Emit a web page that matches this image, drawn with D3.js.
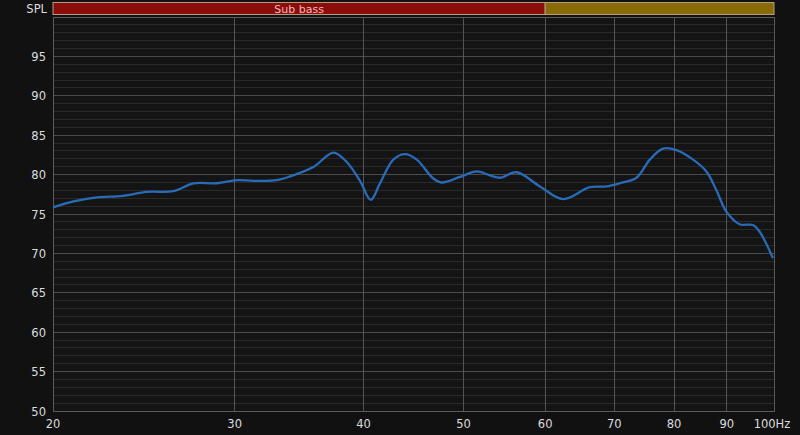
<!DOCTYPE html>
<html><head><meta charset="utf-8">
<script src="https://cdn.jsdelivr.net/npm/d3@7"></script>
<style>
html,body{margin:0;padding:0;background:#111111;}
svg{display:block;}
text{font-family:"DejaVu Sans",sans-serif;}
</style></head>
<body>
<svg id="c" width="800" height="435"></svg>
<script>
// Frequency (Hz) and SPL (dB)
const freqs = [20.0, 20.94, 22.06, 23.39, 24.66, 26.16, 27.37, 28.84, 30.15, 31.27, 32.96, 34.0, 35.8, 37.40, 38.53, 39.69, 40.65, 41.50, 42.75, 43.88, 45.05, 46.74, 47.63, 49.61, 51.49, 53.04, 54.24, 56.30, 59.30, 62.46, 66.28, 68.80, 70.87, 73.57, 75.79, 78.06, 80.43, 83.47, 86.00, 87.94, 89.91, 92.62, 95.41, 96.85, 99.76];
const spl   = [75.85, 76.6, 77.1, 77.3, 77.8, 77.9, 78.9, 78.9, 79.3, 79.2, 79.3, 79.8, 81.0, 82.8, 81.6, 79.2, 76.8, 78.9, 81.9, 82.6, 81.9, 79.5, 79.0, 79.7, 80.4, 79.9, 79.6, 80.3, 78.5, 76.9, 78.4, 78.5, 78.9, 79.6, 81.9, 83.3, 83.1, 81.9, 80.4, 78.0, 75.3, 73.7, 73.6, 72.75, 69.4];
const xTickValues = [20, 30, 40, 50, 60, 70, 80, 90, 100];
const xTickLabels = ["20", "30", "40", "50", "60", "70", "80", "90", "100Hz"];
const yTickValues = [50, 55, 60, 65, 70, 75, 80, 85, 90, 95];
const bandNames = ["Sub bass", ""];
const bandStarts = [20, 60];
const bandEnds = [60, 100];
const bandColors = ["#8c0c0c", "#8a6a06"];

const svg = d3.select("#c");
const L = 53, R = 774, T = 17, B = 411;
const x = d3.scaleLog().domain([20, 100]).range([L, R]);
const y = d3.scaleLinear().domain([50, 100]).range([B, T]);

svg.append("rect").attr("x", 0).attr("y", 0).attr("width", 800).attr("height", 435).attr("fill", "#111111");
svg.append("rect").attr("x", L).attr("y", T).attr("width", R - L).attr("height", B - T).attr("fill", "#141414");

// minor horizontal grid (1 dB)
const minor = d3.range(51, 100).filter(v => v % 5 !== 0);
svg.append("g").selectAll("line").data(minor).join("line")
  .attr("x1", L).attr("x2", R).attr("y1", d => y(d)).attr("y2", d => y(d))
  .attr("stroke", "#2a2a2a").attr("stroke-width", 1).attr("shape-rendering", "crispEdges");

// major horizontal grid
svg.append("g").selectAll("line").data(yTickValues.concat([100])).join("line")
  .attr("x1", L).attr("x2", R).attr("y1", d => y(d)).attr("y2", d => y(d))
  .attr("stroke", "#4c4c4c").attr("stroke-width", 1).attr("shape-rendering", "crispEdges");

// vertical grid
svg.append("g").selectAll("line").data(xTickValues).join("line")
  .attr("x1", d => x(d)).attr("x2", d => x(d)).attr("y1", T).attr("y2", B)
  .attr("stroke", "#555555").attr("stroke-width", 1).attr("shape-rendering", "crispEdges");

// frame
svg.append("rect").attr("x", L).attr("y", T).attr("width", R - L).attr("height", B - T)
  .attr("fill", "none").attr("stroke", "#5a5a5a").attr("stroke-width", 1).attr("shape-rendering", "crispEdges");

// band bar
const bands = svg.append("g");
bandNames.forEach((n, i) => {
  bands.append("rect").attr("x", x(bandStarts[i])).attr("y", 2.5)
    .attr("width", x(bandEnds[i]) - x(bandStarts[i])).attr("height", 12)
    .attr("fill", bandColors[i]).attr("stroke", "#b0a080").attr("stroke-width", 1);
  if (n) bands.append("text").attr("x", (x(bandStarts[i]) + x(bandEnds[i])) / 2).attr("y", 12.5)
    .attr("text-anchor", "middle").attr("fill", "#f0b8b8").attr("font-size", 11).text(n);
});

// labels
svg.append("text").attr("x", 47).attr("y", 12.5).attr("text-anchor", "end")
  .attr("fill", "#dddddd").attr("font-size", 11.5).text("SPL");
svg.append("g").selectAll("text").data(yTickValues).join("text")
  .attr("x", 46).attr("y", d => y(d) + 4.5).attr("text-anchor", "end")
  .attr("fill", "#dddddd").attr("font-size", 11.5).text(d => d);
svg.append("g").selectAll("text").data(xTickValues).join("text")
  .attr("x", (d, i) => i === xTickValues.length - 1 ? x(d) - 2 : x(d))
  .attr("y", 428).attr("text-anchor", "middle")
  .attr("fill", "#dddddd").attr("font-size", 11.5).text((d, i) => xTickLabels[i]);

// curve
const pts = freqs.map((f, i) => [f, spl[i]]);
svg.append("path").datum(pts)
  .attr("d", d3.line().x(d => x(d[0])).y(d => y(d[1])).curve(d3.curveCatmullRom.alpha(0.5)))
  .attr("fill", "none").attr("stroke", "#2a6bb8").attr("stroke-width", 2.3);
</script>
</body></html>
